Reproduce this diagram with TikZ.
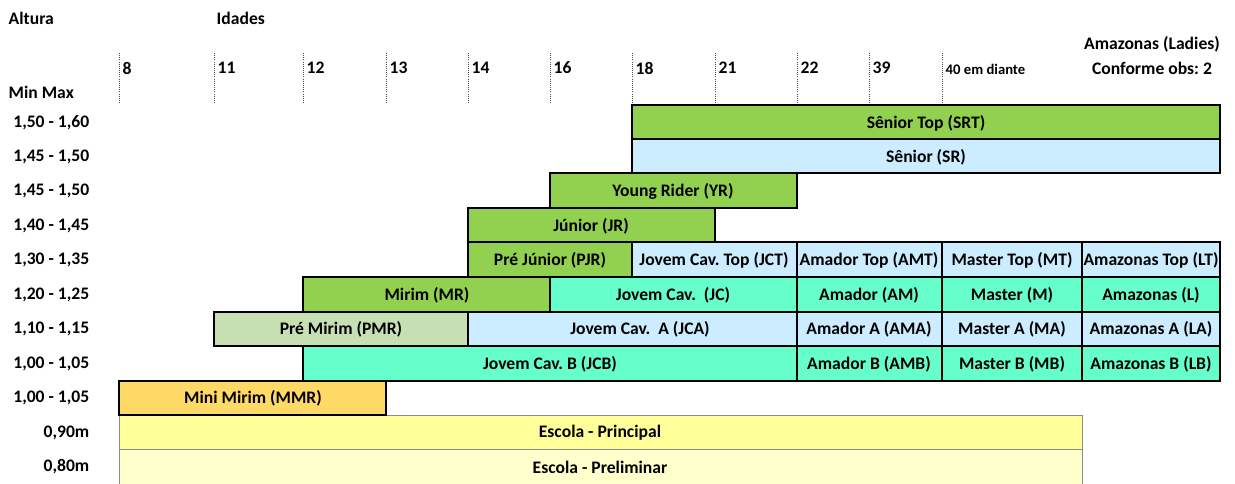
\documentclass[tikz,border=0pt]{standalone}
\usepackage{fontspec}
\setmainfont{Carlito}
\usepackage{xcolor}
\definecolor{verde}{HTML}{92D050}
\definecolor{azul}{HTML}{CCECFF}
\definecolor{agua}{HTML}{66FFCC}
\definecolor{verdeclaro}{HTML}{C6E0B4}
\definecolor{laranja}{HTML}{FFD966}
\definecolor{amarelo}{HTML}{FFFF99}
\definecolor{amareloclaro}{HTML}{FFFFCC}
\frenchspacing

\begin{document}
\begin{tikzpicture}[x=0.75pt,y=-0.75pt,font=\fontsize{13.2}{15}\selectfont\bfseries,
  faixa/.style={draw=black,line width=0.9pt},
  escola/.style={draw=black!45,line width=0.6pt},
  marca/.style={densely dotted,line width=0.6pt,black!70}]
\useasboundingbox (0,0) rectangle (1235,483);

% cabecalho
\node[anchor=west] (altura) at (4,18) {Altura};
\node[anchor=west] (idades) at (212,18) {Idades};
\node[anchor=west] (minmax) at (4,92) {Min Max};
\node (ladies) at (1152,44) {Amazonas (Ladies)};
\node (obs) at (1152,68) {Conforme obs: 2};

% idades
\draw[marca] (119,53) -- (119,103);
\draw[marca] (214,53) -- (214,103);
\draw[marca] (303,53) -- (303,103);
\draw[marca] (386,53) -- (386,103);
\draw[marca] (468,53) -- (468,103);
\draw[marca] (550,53) -- (550,103);
\draw[marca] (632,53) -- (632,103);
\draw[marca] (715,53) -- (715,103);
\draw[marca] (797,53) -- (797,103);
\draw[marca] (869,53) -- (869,103);
\draw[marca] (942,53) -- (942,103);
\node[anchor=west] (i8) at (118,68) {8};
\node[anchor=west] (i11) at (213,68) {11};
\node[anchor=west] (i12) at (302,68) {12};
\node[anchor=west] (i13) at (385,68) {13};
\node[anchor=west] (i14) at (467,68) {14};
\node[anchor=west] (i16) at (549,68) {16};
\node[anchor=west] (i18) at (631,68) {18};
\node[anchor=west] (i21) at (714,68) {21};
\node[anchor=west] (i22) at (796,68) {22};
\node[anchor=west] (i39) at (868,68) {39};
\node[anchor=west,font=\fontsize{11}{13}\selectfont\bfseries] (i40) at (941,69) {40 em diante};

% alturas
\node[anchor=east] (h1) at (94,123) {1,50 - 1,60};
\node[anchor=east] (h2) at (94,157) {1,45 - 1,50};
\node[anchor=east] (h3) at (94,191) {1,45 - 1,50};
\node[anchor=east] (h4) at (94,226) {1,40 - 1,45};
\node[anchor=east] (h5) at (94,260) {1,30 - 1,35};
\node[anchor=east] (h6) at (94,295) {1,20 - 1,25};
\node[anchor=east] (h7) at (94,329) {1,10 - 1,15};
\node[anchor=east] (h8) at (94,364) {1,00 - 1,05};
\node[anchor=east] (h9) at (94,398) {1,00 - 1,05};
\node[anchor=east] (h10) at (94,433) {0,90m};
\node[anchor=east] (h11) at (94,467) {0,80m};

% escola
\path[escola,fill=amarelo] (119,415) rectangle (1082,449);
\path[escola,fill=amareloclaro] (119,449) rectangle (1082,490);
\node (principal) at (600,433) {Escola - Principal};
\node (preliminar) at (600,467) {Escola - Preliminar};

% categorias
\path[faixa,fill=verde] (632,105) rectangle (1220,139);
\node (srt) at (926,123) {Sênior Top (SRT)};
\path[faixa,fill=azul] (632,139) rectangle (1220,173);
\node (sr) at (926,157) {Sênior (SR)};
\path[faixa,fill=verde] (550,173) rectangle (797,208);
\node (yr) at (673,191) {Young Rider (YR)};
\path[faixa,fill=verde] (468,208) rectangle (715,242);
\node (jr) at (591,226) {Júnior (JR)};

\path[faixa,fill=verde] (468,242) rectangle (632,277);
\node (pjr) at (550,260) {Pré Júnior (PJR)};
\path[faixa,fill=azul] (632,242) rectangle (797,277);
\node (jct) at (714,260) {Jovem Cav. Top (JCT)};
\path[faixa,fill=azul] (797,242) rectangle (942,277);
\node (amt) at (869,260) {Amador Top (AMT)};
\path[faixa,fill=azul] (942,242) rectangle (1082,277);
\node (mt) at (1012,260) {Master Top (MT)};
\path[faixa,fill=azul] (1082,242) rectangle (1220,277);
\node (lt) at (1151,260) {Amazonas Top (LT)};

\path[faixa,fill=verde] (303,277) rectangle (550,312);
\node (mr) at (427,295) {Mirim (MR)};
\path[faixa,fill=agua] (550,277) rectangle (797,312);
\node (jc) at (673,295) {Jovem Cav.~~(JC)};
\path[faixa,fill=agua] (797,277) rectangle (942,312);
\node (am) at (869,295) {Amador (AM)};
\path[faixa,fill=agua] (942,277) rectangle (1082,312);
\node (m) at (1012,295) {Master (M)};
\path[faixa,fill=agua] (1082,277) rectangle (1220,312);
\node (l) at (1151,295) {Amazonas (L)};

\path[faixa,fill=verdeclaro] (214,312) rectangle (468,346);
\node (pmr) at (341,329) {Pré Mirim (PMR)};
\path[faixa,fill=azul] (468,312) rectangle (797,346);
\node (jca) at (640,329) {Jovem Cav.~~A (JCA)};
\path[faixa,fill=azul] (797,312) rectangle (942,346);
\node (ama) at (869,329) {Amador A (AMA)};
\path[faixa,fill=azul] (942,312) rectangle (1082,346);
\node (ma) at (1012,329) {Master A (MA)};
\path[faixa,fill=azul] (1082,312) rectangle (1220,346);
\node (la) at (1151,329) {Amazonas A (LA)};

\path[faixa,fill=agua] (303,346) rectangle (797,381);
\node (jcb) at (550,364) {Jovem Cav. B (JCB)};
\path[faixa,fill=agua] (797,346) rectangle (942,381);
\node (amb) at (869,364) {Amador B (AMB)};
\path[faixa,fill=agua] (942,346) rectangle (1082,381);
\node (mb) at (1012,364) {Master B (MB)};
\path[faixa,fill=agua] (1082,346) rectangle (1220,381);
\node (lb) at (1151,364) {Amazonas B (LB)};

\path[faixa,fill=laranja] (119,381) rectangle (386,415);
\node (mmr) at (253,398) {Mini Mirim (MMR)};

\end{tikzpicture}
\end{document}
